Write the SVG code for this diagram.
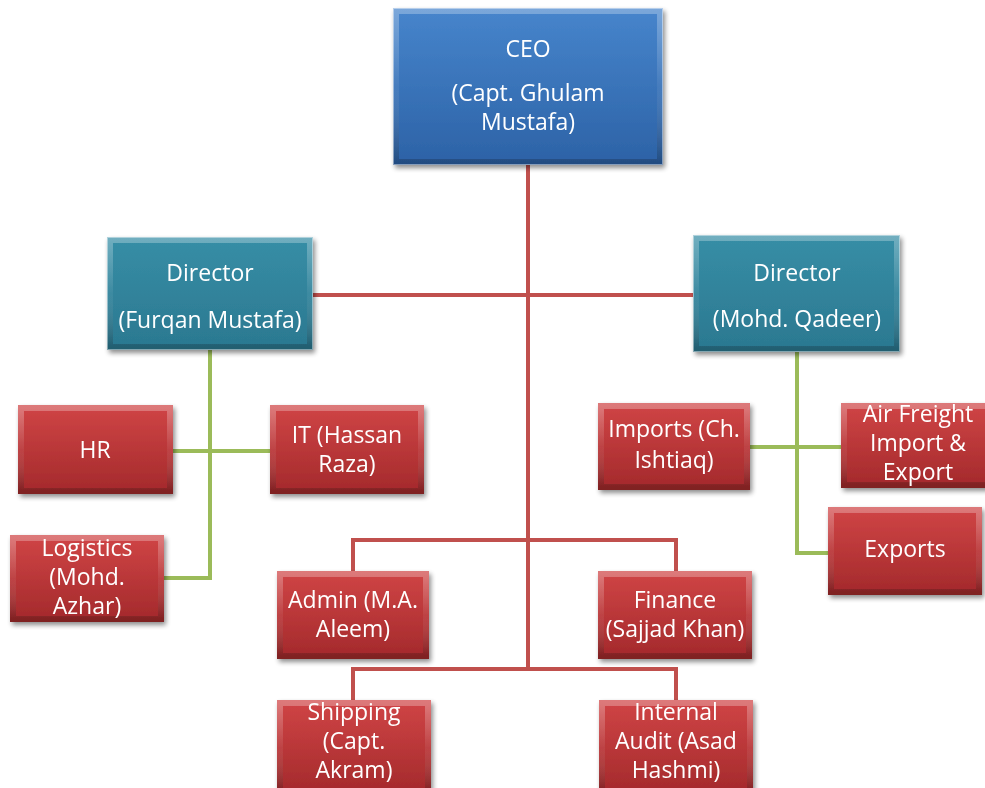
<svg xmlns="http://www.w3.org/2000/svg" width="985" height="788" viewBox="0 0 985 788">
  <defs>
    <linearGradient id="gBlue" x1="0" y1="0" x2="0" y2="1">
      <stop offset="0" stop-color="#4785cc"/>
      <stop offset="1" stop-color="#2c62a6"/>
    </linearGradient>
    <linearGradient id="gTeal" x1="0" y1="0" x2="0" y2="1">
      <stop offset="0" stop-color="#378ea6"/>
      <stop offset="1" stop-color="#2b7890"/>
    </linearGradient>
    <linearGradient id="gRed" x1="0" y1="0" x2="0" y2="1">
      <stop offset="0" stop-color="#d04546"/>
      <stop offset="1" stop-color="#a3292b"/>
    </linearGradient>
    <linearGradient id="gBevel" x1="0" y1="0" x2="0" y2="1">
      <stop offset="0" stop-color="#ffffff" stop-opacity="0.28"/>
      <stop offset="0.5" stop-color="#ffffff" stop-opacity="0.06"/>
      <stop offset="1" stop-color="#000000" stop-opacity="0.22"/>
    </linearGradient>
    <filter id="shadow" x="-10%" y="-10%" width="125%" height="130%">
      <feGaussianBlur in="SourceAlpha" stdDeviation="2.5"/>
      <feOffset dx="2" dy="3" result="b"/>
      <feComponentTransfer><feFuncA type="linear" slope="0.45"/></feComponentTransfer>
      <feMerge><feMergeNode/><feMergeNode in="SourceGraphic"/></feMerge>
    </filter>
  </defs>
  <style>
    .node { filter: url(#shadow); }
    .blue { fill: url(#gBlue); }
    .teal { fill: url(#gTeal); }
    .red { fill: url(#gRed); }
    .bevel { fill: none; stroke: url(#gBevel); stroke-width: 6; }
    .edge { stroke: #ffffff; stroke-opacity: 0.45; stroke-width: 1; fill: none; }
    text { font-family: "Open Sans", "Liberation Sans", sans-serif; font-size: 23px; fill: #ffffff; text-anchor: middle; }
    .lnR { fill: none; stroke: #c0504d; stroke-width: 4; }
    .lnG { fill: none; stroke: #9bbb59; stroke-width: 4; }
  </style>

  <rect width="985" height="788" fill="#ffffff"/>

  <!-- connectors -->
  <g id="connectors">
    <path class="lnR" d="M528 165 V669"/>
    <path class="lnR" d="M313 295 H693"/>
    <path class="lnR" d="M353 573 V540 H676 V573"/>
    <path class="lnR" d="M353 702 V669 H676 V702"/>
    <path class="lnG" d="M210 350 V578 H164"/>
    <path class="lnG" d="M173 451 H270"/>
    <path class="lnG" d="M797 352 V553 H828"/>
    <path class="lnG" d="M750 447 H841"/>
  </g>

  <!-- CEO -->
  <g id="ceo" class="node">
    <rect class="blue" x="393" y="8" width="270" height="157"/>
    <rect class="bevel" x="396" y="11" width="264" height="151"/>
    <rect class="edge" x="393.5" y="8.5" width="269" height="156"/>
    <text x="528" y="57">CEO</text>
    <text x="528" y="101">(Capt. Ghulam</text>
    <text x="528" y="130">Mustafa)</text>
  </g>

  <!-- Directors -->
  <g id="director-left" class="node">
    <rect class="teal" x="107" y="237" width="206" height="113"/>
    <rect class="bevel" x="110" y="240" width="200" height="107"/>
    <rect class="edge" x="107.5" y="237.5" width="205" height="112"/>
    <text x="210" y="281">Director</text>
    <text x="210" y="328">(Furqan Mustafa)</text>
  </g>
  <g id="director-right" class="node">
    <rect class="teal" x="693" y="235" width="207" height="117"/>
    <rect class="bevel" x="696" y="238" width="201" height="111"/>
    <rect class="edge" x="693.5" y="235.5" width="206" height="116"/>
    <text x="797" y="281">Director</text>
    <text x="797" y="327">(Mohd. Qadeer)</text>
  </g>

  <!-- Left department boxes -->
  <g id="hr" class="node">
    <rect class="red" x="18" y="405" width="155" height="89"/>
    <rect class="bevel" x="21" y="408" width="149" height="83"/>
    <text x="95" y="458">HR</text>
  </g>
  <g id="it" class="node">
    <rect class="red" x="270" y="405" width="154" height="89"/>
    <rect class="bevel" x="273" y="408" width="148" height="83"/>
    <text x="347" y="443">IT (Hassan</text>
    <text x="347" y="472">Raza)</text>
  </g>
  <g id="logistics" class="node">
    <rect class="red" x="10" y="535" width="154" height="87"/>
    <rect class="bevel" x="13" y="538" width="148" height="81"/>
    <text x="87" y="556">Logistics</text>
    <text x="87" y="585">(Mohd.</text>
    <text x="87" y="614">Azhar)</text>
  </g>

  <!-- Central departments -->
  <g id="admin" class="node">
    <rect class="red" x="277" y="571" width="152" height="88"/>
    <rect class="bevel" x="280" y="574" width="146" height="82"/>
    <text x="353" y="608">Admin (M.A.</text>
    <text x="353" y="637">Aleem)</text>
  </g>
  <g id="finance" class="node">
    <rect class="red" x="598" y="571" width="154" height="88"/>
    <rect class="bevel" x="601" y="574" width="148" height="82"/>
    <text x="675" y="608">Finance</text>
    <text x="675" y="637">(Sajjad Khan)</text>
  </g>
  <g id="shipping" class="node">
    <rect class="red" x="277" y="700" width="154" height="95"/>
    <rect class="bevel" x="280" y="703" width="148" height="89"/>
    <text x="354" y="720">Shipping</text>
    <text x="354" y="749">(Capt.</text>
    <text x="354" y="778">Akram)</text>
  </g>
  <g id="internal-audit" class="node">
    <rect class="red" x="599" y="700" width="154" height="95"/>
    <rect class="bevel" x="602" y="703" width="148" height="89"/>
    <text x="676" y="720">Internal</text>
    <text x="676" y="749">Audit (Asad</text>
    <text x="676" y="778">Hashmi)</text>
  </g>

  <!-- Right department boxes -->
  <g id="imports" class="node">
    <rect class="red" x="598" y="403" width="152" height="87"/>
    <rect class="bevel" x="601" y="406" width="146" height="81"/>
    <text x="674" y="437">Imports (Ch.</text>
    <text x="674" y="468">Ishtiaq)</text>
  </g>
  <g id="air-freight" class="node">
    <rect class="red" x="841" y="403" width="155" height="85"/>
    <rect class="bevel" x="844" y="406" width="149" height="79"/>
    <text x="918" y="422">Air Freight</text>
    <text x="918" y="451">Import &amp;</text>
    <text x="918" y="480">Export</text>
  </g>
  <g id="exports" class="node">
    <rect class="red" x="828" y="507" width="154" height="88"/>
    <rect class="bevel" x="831" y="510" width="148" height="82"/>
    <text x="905" y="557">Exports</text>
  </g>
</svg>
